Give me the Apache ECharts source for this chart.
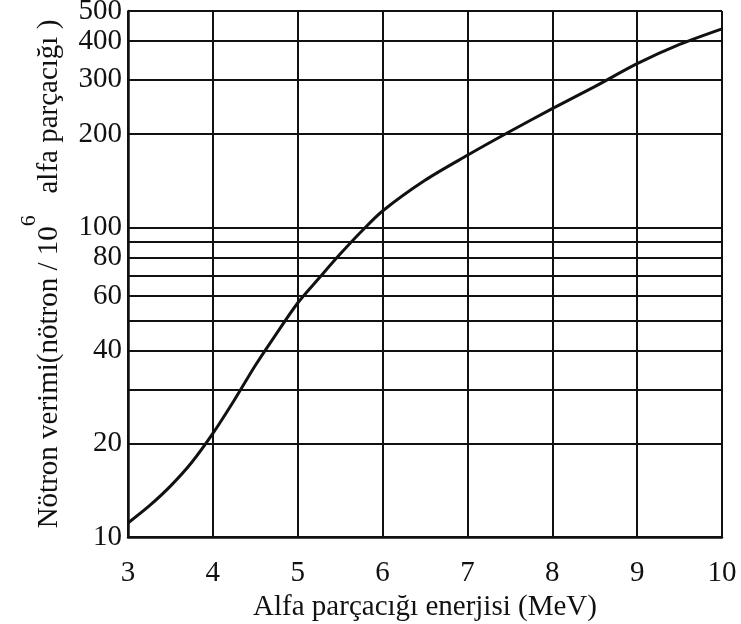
<!DOCTYPE html>
<html>
<head>
<meta charset="utf-8">
<script src="https://cdn.jsdelivr.net/npm/echarts@6/dist/echarts.min.js"></script>
<style>
  html, body { margin: 0; padding: 0; background: #fff; }
  #main { width: 741px; height: 624px; }
</style>
</head>
<body>
<div id="main"></div>
<script>
var chart = echarts.init(document.getElementById('main'));

// alpha energy (MeV) and neutron yield per 10^6 alpha
var energy = [3, 3.25, 3.5, 3.75, 4, 4.25, 4.5, 4.75, 5, 5.25, 5.5, 5.75, 6, 6.5, 7, 7.5, 8, 8.5, 9, 9.5, 10];
var yieldVals = [11.1, 12.6, 14.6, 17.4, 21.6, 27.6, 35.8, 45.4, 57, 68.5, 82, 97, 113, 142, 171, 204, 242, 285, 338, 390, 438];

var gridValues = [10, 20, 30, 40, 50, 60, 70, 80, 90, 100, 200, 300, 400, 500];
var yLabelValues = [10, 20, 40, 60, 80, 100, 200, 300, 400, 500];

var points = [];
for (var i = 0; i < energy.length; i++) {
    points.push([energy[i], yieldVals[i]]);
}

var ink = '#111';
var font = 'Liberation Serif';

option = {
    backgroundColor: '#fff',
    animation: false,
    grid: {
        left: 128,
        right: 19,
        top: 11,
        bottom: 87,
        containLabel: false,
        outerBoundsMode: 'none'
    },
    xAxis: {
        type: 'value',
        min: 3,
        max: 10,
        interval: 1,
        name: 'Alfa parçacığı enerjisi (MeV)',
        nameLocation: 'middle',
        nameGap: 56,
        nameTextStyle: { fontFamily: font, fontSize: 29, color: ink },
        axisLine: { show: true, lineStyle: { color: ink, width: 2.5 } },
        axisTick: { show: false },
        axisLabel: { fontFamily: font, fontSize: 29, color: ink, margin: 22 },
        splitLine: { show: true, lineStyle: { color: ink, width: 2 } }
    },
    yAxis: {
        type: 'log',
        logBase: 10,
        min: 10,
        max: 500,
        name: '{main|Nötron verimi(nötron / 10}{sup|6}{main|   alfa parçacığı )}',
        nameLocation: 'middle',
        nameRotate: 90,
        nameGap: 64,
        nameTextStyle: {
            fontFamily: font,
            color: ink,
            rich: {
                main: { fontFamily: font, fontSize: 29, color: ink, lineHeight: 46, verticalAlign: 'bottom' },
                sup: { fontFamily: font, fontSize: 22, color: ink, lineHeight: 46, verticalAlign: 'top' }
            }
        },
        axisLine: { show: true, lineStyle: { color: ink, width: 2.5 } },
        axisTick: { show: false, customValues: gridValues },
        axisLabel: {
            fontFamily: font,
            fontSize: 29,
            color: ink,
            margin: 6,
            customValues: yLabelValues
        },
        splitLine: { show: true, lineStyle: { color: ink, width: 2 } },
        minorSplitLine: { show: false }
    },
    series: [{
        type: 'line',
        data: points,
        smooth: 0.3,
        showSymbol: false,
        lineStyle: { color: ink, width: 3 },
        z: 5
    }]
};

chart.setOption(option);
</script>
</body>
</html>
